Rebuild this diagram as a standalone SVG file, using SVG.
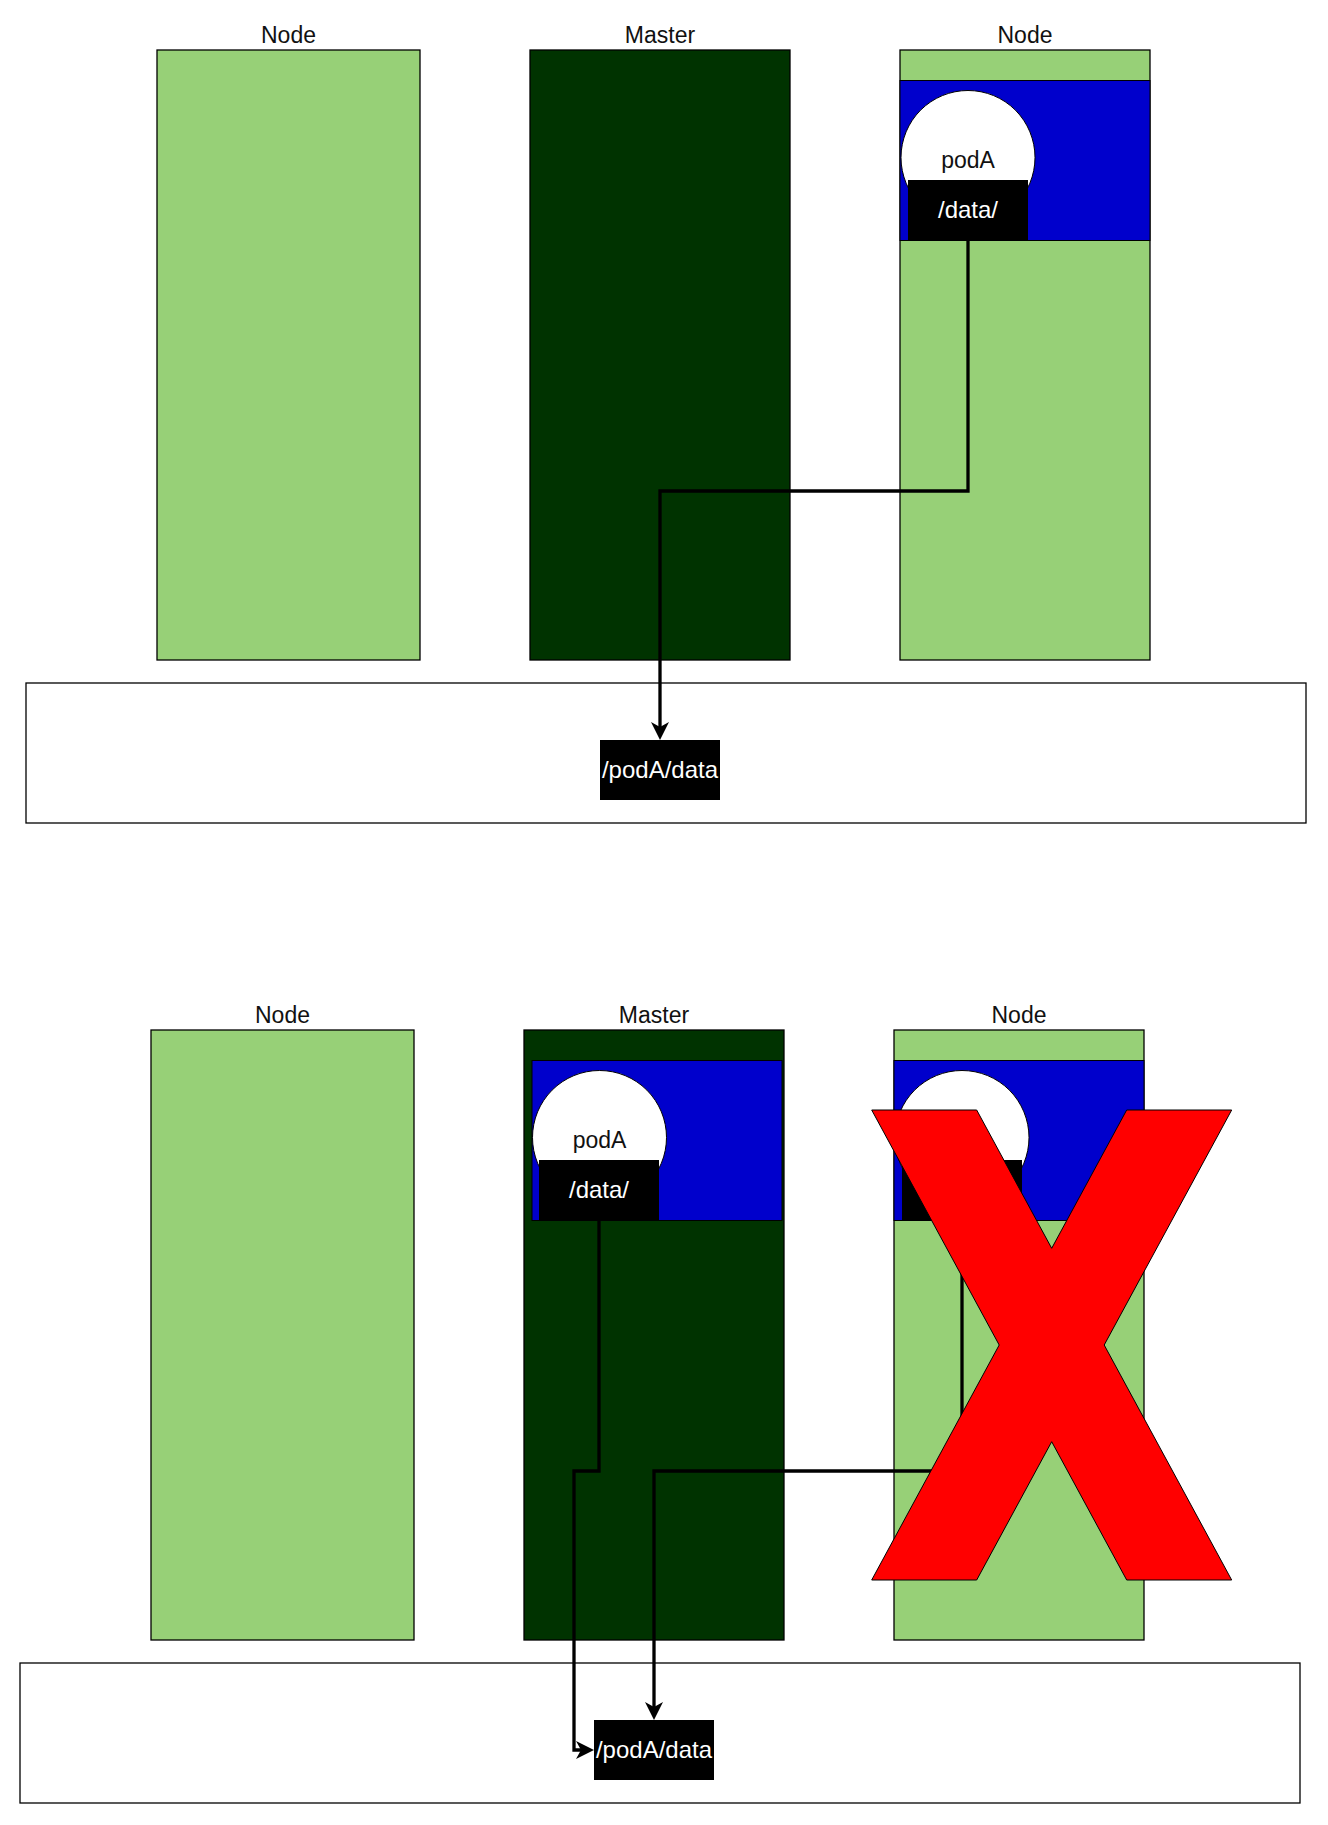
<svg xmlns="http://www.w3.org/2000/svg" width="1328" height="1825" viewBox="0 0 1328 1825">
<style>
.lbl{font-family:"Liberation Sans",Arial,sans-serif;font-size:23px;fill:#111;text-anchor:middle}
.wlbl{font-family:"Liberation Sans",Arial,sans-serif;font-size:24px;fill:#fff;text-anchor:middle}
.node{fill:#97D077;stroke:#000;stroke-width:1.3}
.master{fill:#003300;stroke:#000;stroke-width:1.3}
.pod{fill:#0000CC;stroke:#000;stroke-width:1}
.circ{fill:#fff;stroke:#000;stroke-width:1}
.blk{fill:#000;stroke:none}
.host{fill:#fff;stroke:#000;stroke-width:1.3}
.conn{fill:none;stroke:#000;stroke-width:3.3}
.cross{fill:#FF0000;stroke:#000;stroke-width:1}
</style>
<defs>
<marker id="arr" markerUnits="userSpaceOnUse" markerWidth="20" markerHeight="20" viewBox="0 -10 20 20" refX="8" refY="0" orient="auto">
<path d="M0,-9 L18,0 L0,9 L5,0 Z" fill="#000"/>
</marker>
</defs>
<rect width="1328" height="1825" fill="#fff"/>

<!-- Top section -->
<g id="top-node-left">
<rect class="node" x="157" y="50" width="263" height="610"/>
<text class="lbl" x="288.5" y="43">Node</text>
</g>
<g id="top-master">
<rect class="master" x="530" y="50" width="260" height="610"/>
<text class="lbl" x="660" y="43">Master</text>
</g>
<g id="top-node-right">
<rect class="node" x="900" y="50" width="250" height="610"/>
<text class="lbl" x="1025" y="43">Node</text>
</g>
<g id="top-pod">
<rect class="pod" x="900" y="80.5" width="250" height="160"/>
<circle class="circ" cx="968" cy="157.5" r="67"/>
<text class="lbl" x="968" y="168">podA</text>
<rect class="blk" x="908" y="180" width="120" height="60"/>
<text class="wlbl" x="968" y="218">/data/</text>
</g>
<g id="top-host">
<rect class="host" x="26" y="683" width="1280" height="140"/>
</g>
<g id="top-hostpath">
<rect class="blk" x="600" y="740" width="120" height="60"/>
<text class="wlbl" x="660" y="778">/podA/data</text>
</g>

<!-- Bottom section -->
<g id="bot-node-left">
<rect class="node" x="151" y="1030" width="263" height="610"/>
<text class="lbl" x="282.5" y="1023">Node</text>
</g>
<g id="bot-master">
<rect class="master" x="524" y="1030" width="260" height="610"/>
<text class="lbl" x="654" y="1023">Master</text>
</g>
<g id="bot-master-pod">
<rect class="pod" x="532" y="1060.5" width="250" height="160"/>
<circle class="circ" cx="599.5" cy="1137.5" r="67"/>
<text class="lbl" x="599.5" y="1148">podA</text>
<rect class="blk" x="539" y="1160" width="120" height="60"/>
<text class="wlbl" x="599" y="1198">/data/</text>
</g>
<g id="bot-node-right">
<rect class="node" x="894" y="1030" width="250" height="610"/>
<text class="lbl" x="1019" y="1023">Node</text>
</g>
<g id="bot-node-pod">
<rect class="pod" x="894" y="1060.5" width="250" height="160"/>
<circle class="circ" cx="962" cy="1137.5" r="67"/>
<rect class="blk" x="902" y="1160" width="120" height="60"/>
</g>
<g id="bot-host">
<rect class="host" x="20" y="1663" width="1280" height="140"/>
</g>
<g id="bot-hostpath">
<rect class="blk" x="594" y="1720" width="120" height="60"/>
<text class="wlbl" x="654" y="1758">/podA/data</text>
</g>

<g id="connectors">
<path class="conn" d="M968,240 V491 H660 V730" marker-end="url(#arr)"/>
<path class="conn" d="M962,1220 V1471 H654 V1710" marker-end="url(#arr)"/>
<path class="conn" d="M599,1220 V1471 H574 V1750 H584" marker-end="url(#arr)"/>
</g>

<g id="red-x">
<polygon class="cross" points="871.7,1110 976.7,1110 1051.7,1248.3 1126.7,1110 1231.7,1110 1104.2,1345 1231.7,1580 1126.7,1580 1051.7,1441.7 976.7,1580 871.7,1580 999.2,1345"/>
</g>
</svg>
